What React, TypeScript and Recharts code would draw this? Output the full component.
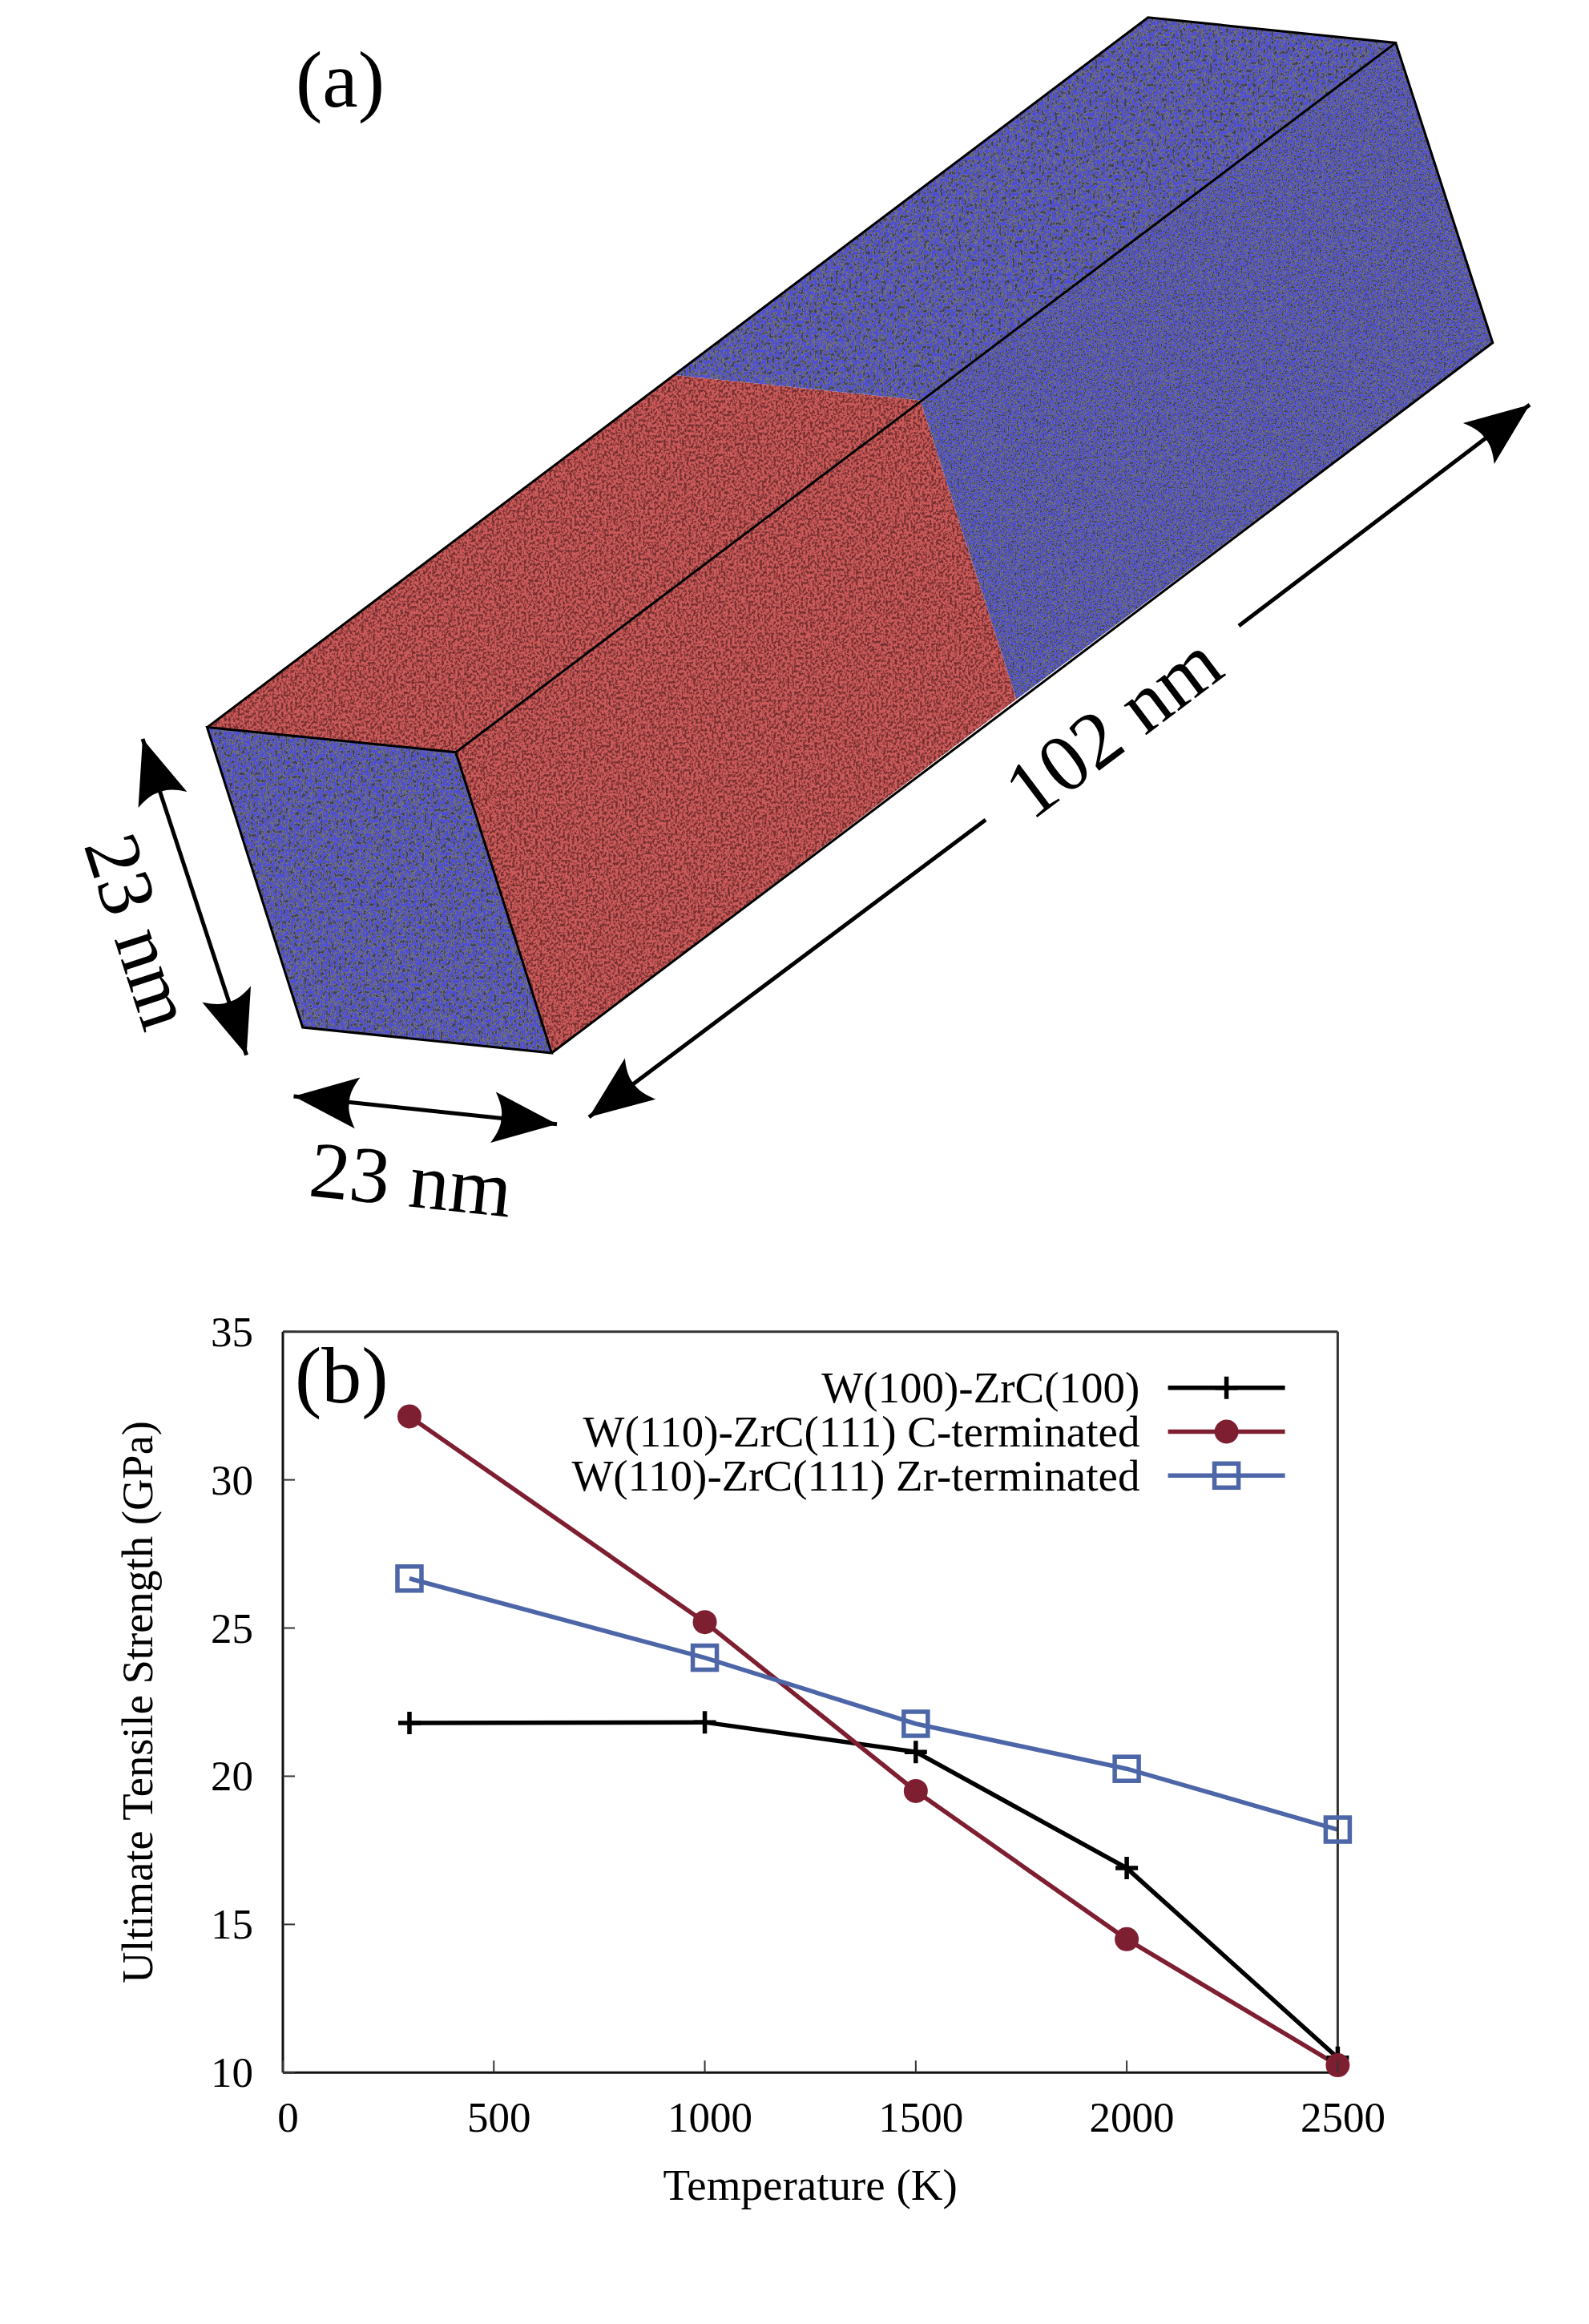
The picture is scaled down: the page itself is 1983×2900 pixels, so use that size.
import { Legend, Line, LineChart, XAxis, YAxis } from "recharts";

const temperatures = [300, 1000, 1500, 2000, 2500];
const w100Zr100 = [21.8, 21.82, 20.82, 16.9, 10.5];
const w110CTerm = [32.14, 25.2, 19.5, 14.5, 10.25];
const w110ZrTerm = [26.67, 24.0, 21.77, 20.25, 18.2];

const xTicks = [0, 500, 1000, 1500, 2000, 2500];
const yTicks = [10, 15, 20, 25, 30, 35];

const NAME_BLACK = "W(100)-ZrC(100)";
const NAME_RED = "W(110)-ZrC(111) C-terminated";
const NAME_BLUE = "W(110)-ZrC(111) Zr-terminated";

const BLACK = "#000000";
const RED = "#7e1f31";
const BLUE = "#4c66a8";
const FONT = "'Liberation Serif', serif";

const chartData = temperatures.map((t, i) => ({
  t,
  black: w100Zr100[i],
  red: w110CTerm[i],
  blue: w110ZrTerm[i],
}));

function PlusMark({ cx, cy, color }: any) {
  return (
    <path
      d={`M${cx - 14},${cy}H${cx + 14}M${cx},${cy - 14}V${cy + 14}`}
      stroke={color}
      strokeWidth={5.5}
      fill="none"
    />
  );
}

function CircleMark({ cx, cy, color }: any) {
  return <circle cx={cx} cy={cy} r={15} fill={color} />;
}

function SquareMark({ cx, cy, color }: any) {
  return (
    <rect
      x={cx - 15}
      y={cy - 15}
      width={30}
      height={30}
      fill="none"
      stroke={color}
      strokeWidth={5.5}
    />
  );
}

const MARKS = [PlusMark, CircleMark, SquareMark];

function XTick({ x, y, payload }: any) {
  return (
    <g>
      <line x1={x} x2={x} y1={y} y2={y - 15} stroke="#333" strokeWidth={2} />
      <text
        x={x + 6.5}
        y={y + 74}
        textAnchor="middle"
        fontFamily={FONT}
        fontSize={53}
        fill="#000"
      >
        {payload.value}
      </text>
    </g>
  );
}

function YTick({ x, y, payload }: any) {
  return (
    <g>
      <line x1={x} x2={x + 15} y1={y} y2={y} stroke="#333" strokeWidth={2} />
      <text
        x={x - 37}
        y={y + 18}
        textAnchor="end"
        fontFamily={FONT}
        fontSize={53}
        fill="#000"
      >
        {payload.value}
      </text>
    </g>
  );
}

function renderLegend({ payload }: any) {
  return (
    <svg width={1020} height={190} style={{ display: "block" }}>
      {(payload || []).map((item: any, i: number) => {
        const Mark = MARKS[i];
        const y = 41.7 + i * 54.8;
        return (
          <g key={item.value}>
            <text
              x={822.4}
              y={y + 18.3}
              textAnchor="end"
              fontFamily={FONT}
              fontSize={55}
              fill="#000"
            >
              {item.value}
            </text>
            <line
              x1={857.6}
              x2={1003.6}
              y1={y}
              y2={y}
              stroke={item.color}
              strokeWidth={5.5}
            />
            <Mark cx={930.6} cy={y} color={item.color} />
          </g>
        );
      })}
    </svg>
  );
}

// panel (a): the bicrystal box, an illustration rather than data
function arrowHead(tail: number[], tip: number[], len: number, half: number) {
  const dx = tip[0] - tail[0];
  const dy = tip[1] - tail[1];
  const d = Math.hypot(dx, dy);
  const ux = dx / d;
  const uy = dy / d;
  const at = (a: number, b: number) =>
    `${tip[0] - ux * a - uy * b},${tip[1] - uy * a + ux * b}`;
  return `M${at(0, 0)}L${at(len, half)}Q${at(len - 12, 12)} ${at(len - 10, 0)}Q${at(len - 12, -12)} ${at(len, -half)}Z`;
}

function Arrow({ from, to, startHead, endHead }: any) {
  return (
    <g>
      <line
        x1={from[0]}
        y1={from[1]}
        x2={to[0]}
        y2={to[1]}
        stroke="#000"
        strokeWidth={5}
      />
      {endHead && <path d={arrowHead(from, to, 80, 32)} fill="#000" />}
      {startHead && <path d={arrowHead(to, from, 80, 32)} fill="#000" />}
    </g>
  );
}

function AtomFilter({ id, freq, r, g, b }: any) {
  return (
    <filter
      id={id}
      x="0"
      y="0"
      width="100%"
      height="100%"
      colorInterpolationFilters="sRGB"
    >
      <feTurbulence
        type="fractalNoise"
        baseFrequency={freq}
        numOctaves={2}
        seed={4}
      />
      <feColorMatrix
        type="matrix"
        values="1 0 0 0 0 1 0 0 0 0 1 0 0 0 0 0 0 0 0 1"
      />
      <feComponentTransfer>
        <feFuncR type="discrete" tableValues={r} />
        <feFuncG type="discrete" tableValues={g} />
        <feFuncB type="discrete" tableValues={b} />
      </feComponentTransfer>
      <feComposite in2="SourceAlpha" operator="in" />
    </filter>
  );
}

const BLUE_R = ".24 .24 .24 .3 .44 .33 .3 .3 .3 .3";
const BLUE_B = ".36 .36 .36 .4 .48 .78 .85 .85 .85 .85";
const RED_R = ".45 .45 .45 .48 .6 .78 .8 .8 .8 .8";
const RED_G = ".18 .18 .18 .2 .25 .34 .36 .36 .36 .36";

function BoxPanel() {
  const A = "258.5,907.6";
  const B = "568.8,938.7";
  const C = "688.4,1314";
  const D = "377.7,1282";
  const E = "1432.7,21.8";
  const F = "1741.8,53.4";
  const G = "1862.8,427.7";
  const IL = "842,468";
  const IR = "1148.5,499.4";
  const IB = "1268.4,872.6";
  return (
    <g>
      <defs>
        <AtomFilter id="blueCoarse" freq="0.3 0.22" r={BLUE_R} g={BLUE_R} b={BLUE_B} />
        <AtomFilter id="blueFine" freq="0.45 0.4" r={BLUE_R} g={BLUE_R} b={BLUE_B} />
        <AtomFilter id="redAtoms" freq="0.35 0.3" r={RED_R} g={RED_G} b={RED_G} />
      </defs>
      <polygon points={`${A} ${B} ${IR} ${IL}`} fill="#000" filter="url(#redAtoms)" />
      <polygon points={`${IL} ${IR} ${F} ${E}`} fill="#000" filter="url(#blueCoarse)" />
      <polygon points={`${A} ${B} ${C} ${D}`} fill="#000" filter="url(#blueCoarse)" />
      <polygon points={`${B} ${C} ${IB} ${IR}`} fill="#000" filter="url(#redAtoms)" />
      <polygon points={`${IR} ${IB} ${G} ${F}`} fill="#000" filter="url(#blueFine)" />
      <path
        d={`M${A}L${B}L${C}L${D}ZM${A}L${E}L${F}L${G}L${C}M${B}L${F}`}
        fill="none"
        stroke="#000"
        strokeWidth={3}
      />
      <Arrow from={[1546, 781]} to={[1909, 505]} endHead />
      <Arrow from={[1230, 1023]} to={[735, 1394]} endHead />
      <Arrow from={[366.5, 1368]} to={[695, 1402.7]} startHead endHead />
      <Arrow from={[178, 922]} to={[307.6, 1316.6]} startHead endHead />
      <g fontFamily={FONT} fill="#000">
        <text x={369} y={133} fontSize={100}>
          (a)
        </text>
        <text x={368} y={1750} fontSize={100}>
          (b)
        </text>
        <text
          x={1389}
          y={906}
          fontSize={101}
          textAnchor="middle"
          dominantBaseline="central"
          transform="rotate(-37 1389 906)"
        >
          102 nm
        </text>
        <text
          x={513}
          y={1472}
          fontSize={100}
          textAnchor="middle"
          dominantBaseline="central"
          transform="rotate(6 513 1472)"
        >
          23 nm
        </text>
        <text
          x={174}
          y={1162}
          fontSize={98}
          textAnchor="middle"
          dominantBaseline="central"
          transform="rotate(72 174 1162)"
        >
          23 nm
        </text>
      </g>
    </g>
  );
}

export default function App() {
  return (
    <div
      style={{
        position: "absolute",
        left: 0,
        top: 0,
        width: 1983,
        height: 2900,
        background: "#fff",
      }}
    >
      <LineChart
        width={1983}
        height={2900}
        data={chartData}
        margin={{ top: 1661.7, right: 313.6, bottom: 113.7, left: 0 }}
      >
        <BoxPanel />
        <XAxis
          dataKey="t"
          type="number"
          domain={[0, 2500]}
          ticks={xTicks}
          height={200}
          tickSize={0}
          tickMargin={0}
          tickLine={false}
          tick={<XTick />}
          axisLine={{ stroke: "#111", strokeWidth: 3 }}
          interval={0}
          label={{
            value: "Temperature (K)",
            position: "center",
            dy: 39,
            fontFamily: FONT,
            fontSize: 55,
            fill: "#000",
          }}
        />
        <YAxis
          type="number"
          domain={[10, 35]}
          ticks={yTicks}
          width={353}
          tickSize={0}
          tickMargin={0}
          tickLine={false}
          tick={<YTick />}
          axisLine={{ stroke: "#111", strokeWidth: 3 }}
          interval={0}
          label={{
            value: "Ultimate Tensile Strength (GPa)",
            position: "center",
            angle: -90,
            dx: -6,
            fontFamily: FONT,
            fontSize: 54.5,
            fill: "#000",
          }}
        />
        <Line
          dataKey="black"
          name={NAME_BLACK}
          stroke={BLACK}
          strokeWidth={5.5}
          isAnimationActive={false}
          dot={(p: any) => <PlusMark key={p.cx} cx={p.cx} cy={p.cy} color={BLACK} />}
        />
        <Line
          dataKey="red"
          name={NAME_RED}
          stroke={RED}
          strokeWidth={5.5}
          isAnimationActive={false}
          dot={(p: any) => <CircleMark key={p.cx} cx={p.cx} cy={p.cy} color={RED} />}
        />
        <Line
          dataKey="blue"
          name={NAME_BLUE}
          stroke={BLUE}
          strokeWidth={5.5}
          isAnimationActive={false}
          dot={(p: any) => <SquareMark key={p.cx} cx={p.cx} cy={p.cy} color={BLUE} />}
        />
        <XAxis
          xAxisId="top"
          dataKey="t"
          type="number"
          orientation="top"
          domain={[0, 2500]}
          ticks={xTicks}
          height={1}
          mirror
          tick={false}
          tickSize={15}
          tickLine={{ stroke: "#333", strokeWidth: 2 }}
          axisLine={{ stroke: "#333", strokeWidth: 3 }}
        />
        <YAxis
          yAxisId="right"
          type="number"
          orientation="right"
          domain={[10, 35]}
          ticks={yTicks}
          width={1}
          mirror
          tick={false}
          tickSize={15}
          tickLine={{ stroke: "#333", strokeWidth: 2 }}
          axisLine={{ stroke: "#333", strokeWidth: 3 }}
        />
        <Legend
          layout="vertical"
          align="center"
          verticalAlign="middle"
          content={renderLegend}
          wrapperStyle={{ left: 600, top: 1690, width: 1020, height: 190 }}
        />
      </LineChart>
    </div>
  );
}
